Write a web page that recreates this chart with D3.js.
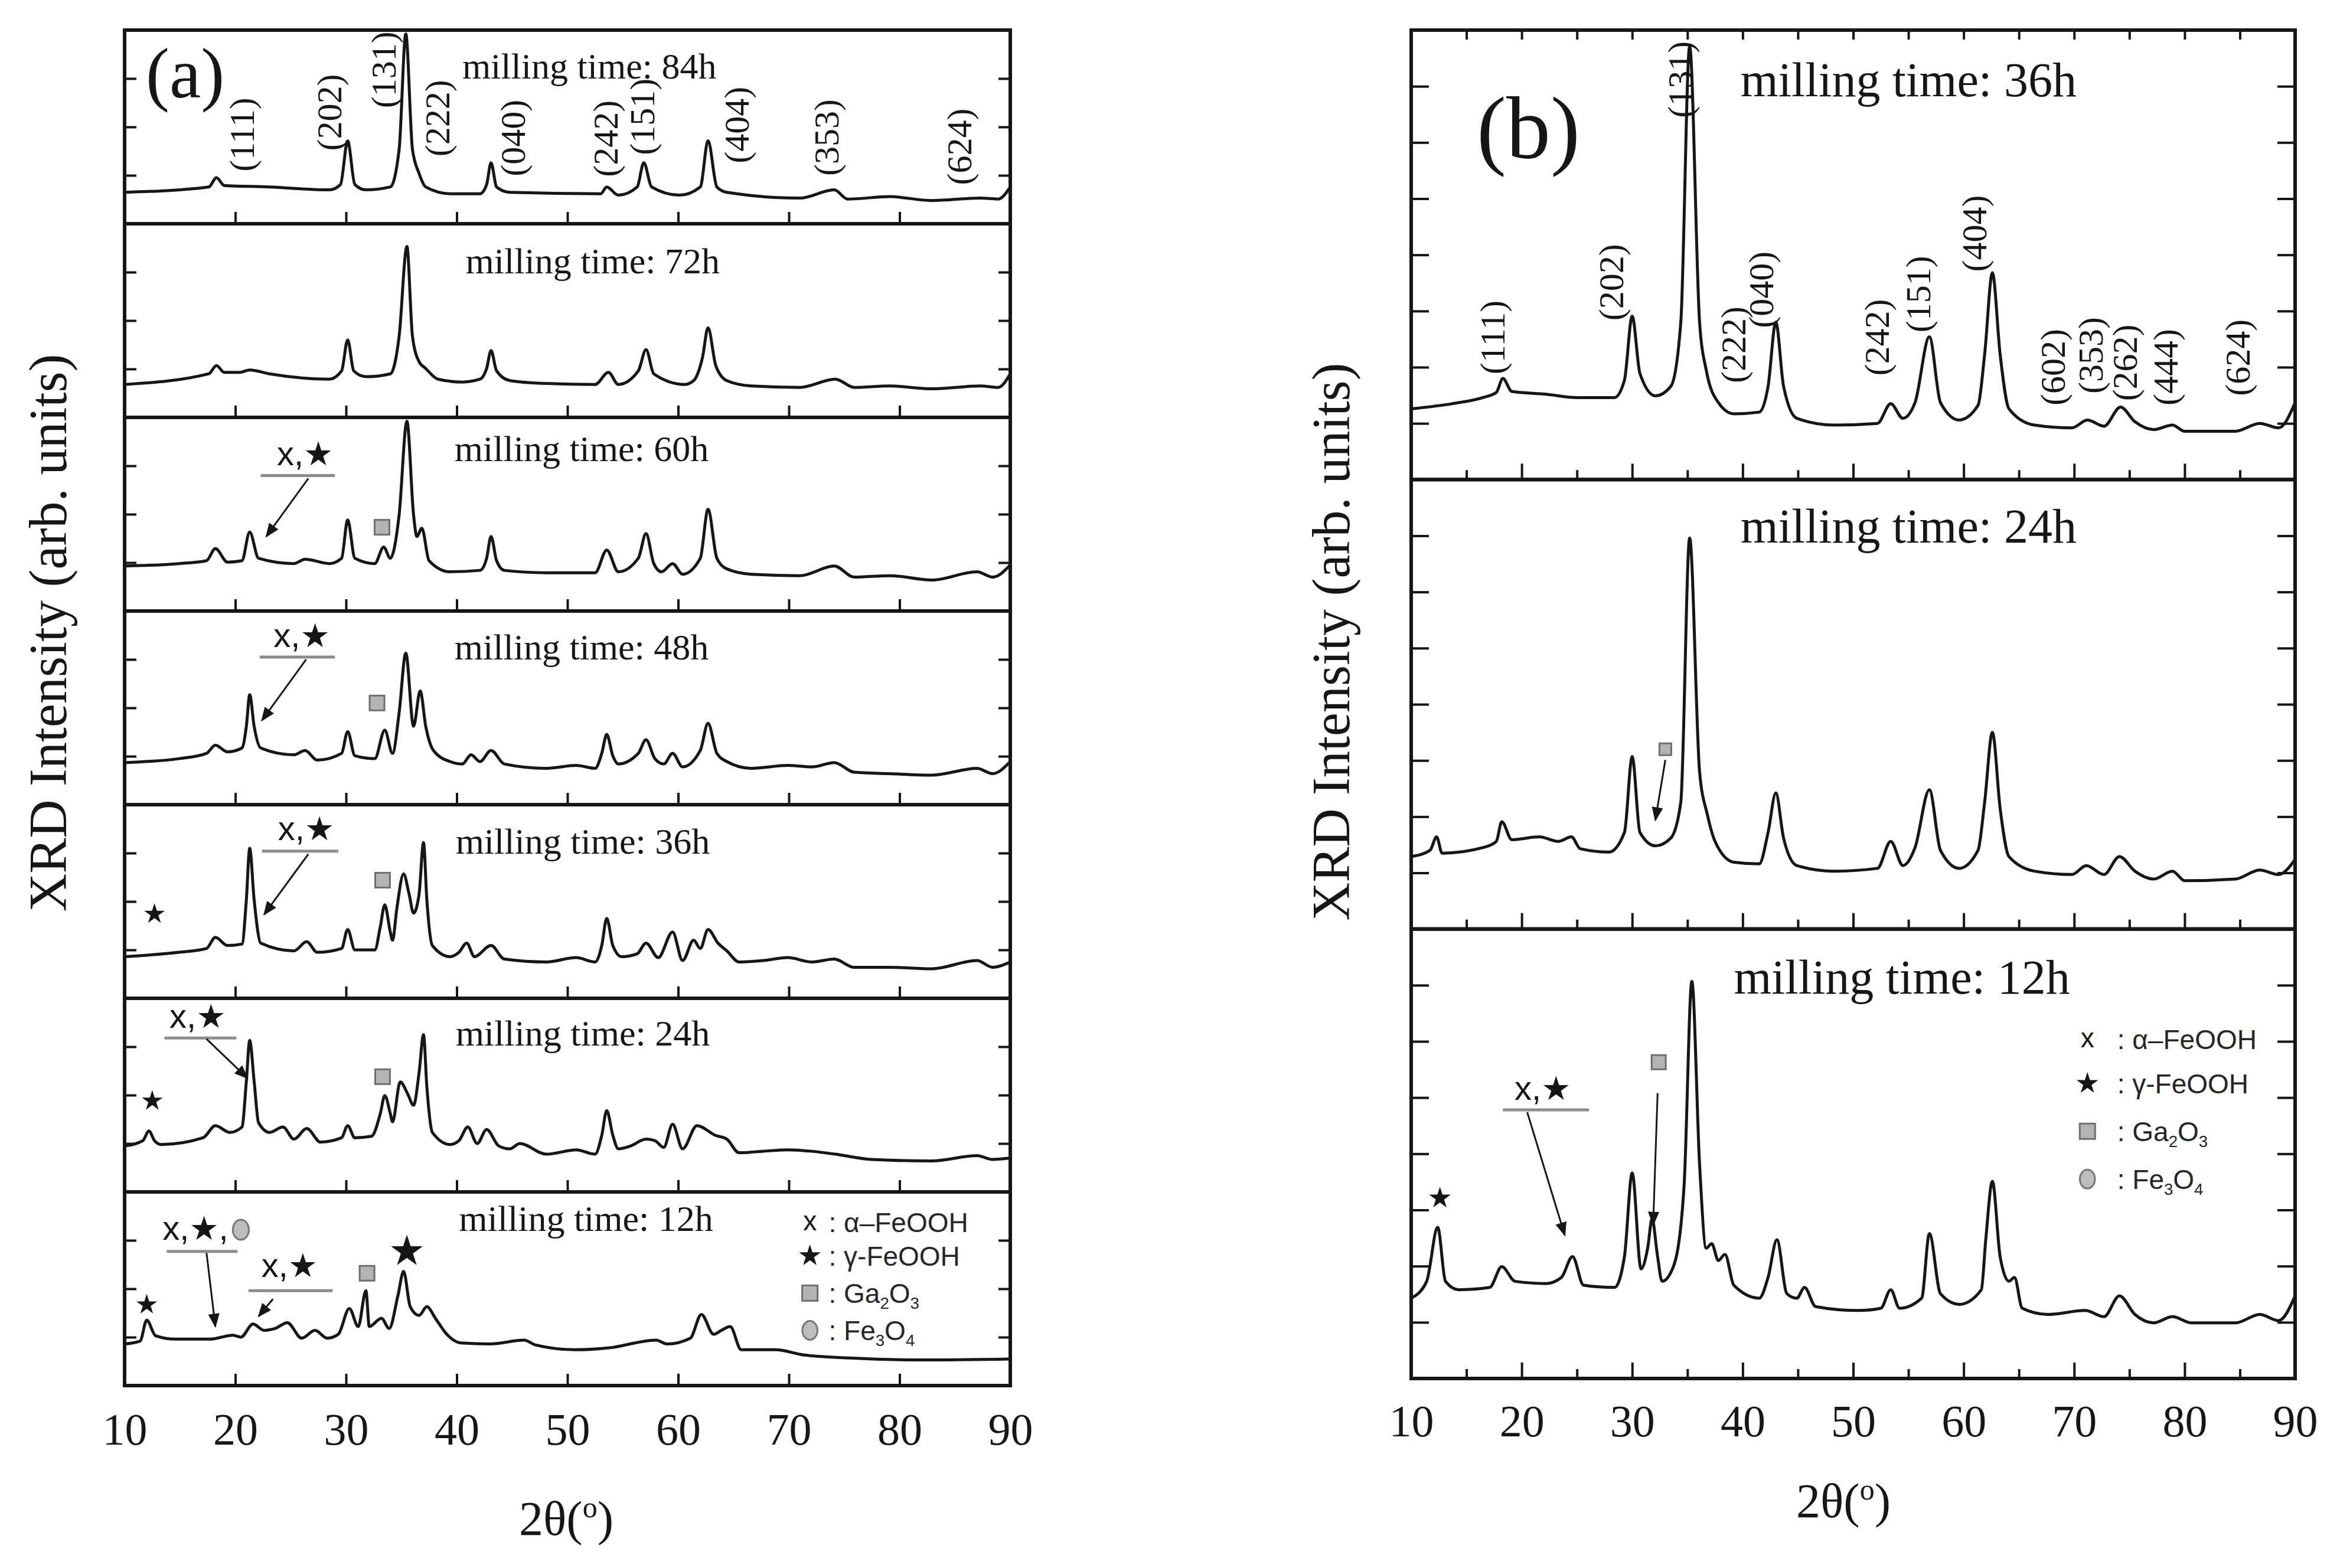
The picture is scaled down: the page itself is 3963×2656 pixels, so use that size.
<!DOCTYPE html>
<html>
<head>
<meta charset="utf-8">
<script src="https://cdn.jsdelivr.net/npm/d3@7"></script>
<style>
  html, body { margin: 0; padding: 0; background: #fff; }
  svg { display: block; }
</style>
</head>
<body>
<div id="chart"></div>
<script>
// ---------------------------------------------------------------------------
// Data: [2θ (deg), intensity] per pattern.
// Panel (a) intensities use a 0..4 scale per row, panel (b) a 0..8 scale.
// ---------------------------------------------------------------------------
const timesA = ["84h", "72h", "60h", "48h", "36h", "24h", "12h"];
const timesB = ["36h", "24h", "12h"];
const xTickLabels = [10, 20, 30, 40, 50, 60, 70, 80, 90];

const a84 = [[10,0.65],[17.6,0.76],[18.3,0.95],[19.0,0.79],[23.1,0.76],[28.5,0.70],[29.5,0.81],[30.15,1.71],[30.8,0.81],[31.8,0.70],[34.0,0.76],[34.8,1.54],[35.4,3.92],[36.0,1.54],[36.6,1.04],[37.2,0.76],[39.4,0.62],[42.1,0.62],[42.7,0.81],[43.1,1.26],[43.6,0.76],[44.8,0.65],[53.0,0.62],[53.55,0.76],[54.6,0.59],[56.3,0.76],[56.9,1.26],[57.6,0.76],[60.1,0.59],[62.0,0.76],[62.7,1.71],[63.5,0.76],[64.4,0.65],[71.0,0.53],[74.1,0.70],[75.3,0.51],[79.1,0.56],[82.9,0.48],[87.3,0.53],[88.9,0.51],[90.0,0.76]];
const a72 = [[10,0.68],[17.6,0.90],[18.3,1.07],[19.0,0.93],[20.4,0.93],[21.3,0.98],[23.1,0.90],[28.5,0.79],[29.6,0.96],[30.15,1.60],[30.7,0.96],[31.8,0.84],[34.0,0.90],[34.8,1.68],[35.5,3.53],[36.0,1.68],[36.6,1.15],[37.2,1.01],[38.3,0.79],[40.5,0.73],[42.1,0.79],[42.7,1.01],[43.1,1.38],[43.6,0.96],[44.8,0.76],[48.1,0.70],[52.5,0.68],[53.7,0.93],[54.6,0.68],[56.4,0.96],[57.1,1.40],[57.8,0.90],[60.6,0.68],[61.4,0.76],[62.2,1.24],[62.7,1.85],[63.4,1.07],[64.4,0.76],[66.6,0.65],[71.0,0.62],[74.2,0.79],[75.9,0.62],[79.1,0.65],[82.9,0.59],[87.3,0.65],[88.9,0.62],[90.0,0.90]];
const a60 = [[10,0.93],[14.9,0.98],[17.4,1.04],[18.2,1.29],[19.3,1.01],[20.6,1.04],[21.3,1.63],[22.1,1.09],[25.3,0.98],[26.3,1.07],[28.5,0.98],[29.6,1.09],[30.15,1.88],[30.8,1.09],[32.6,0.98],[33.4,1.32],[34.0,1.09],[34.8,1.99],[35.5,3.92],[36.1,1.99],[36.4,1.54],[36.85,1.71],[37.5,1.04],[39.4,0.81],[42.1,0.84],[42.7,1.09],[43.1,1.54],[43.6,1.04],[44.3,0.84],[48.1,0.79],[52.5,0.79],[53.55,1.26],[54.6,0.81],[56.4,1.09],[57.1,1.60],[57.8,0.98],[58.5,0.81],[59.5,0.98],[60.4,0.76],[62.0,1.09],[62.7,2.10],[63.5,1.09],[64.4,0.87],[66.6,0.76],[71.0,0.73],[74.1,0.93],[75.9,0.70],[79.1,0.73],[82.9,0.64],[87.0,0.81],[88.4,0.70],[90.0,0.95]];
const a48 = [[10,0.87],[14.9,0.95],[17.4,1.06],[18.2,1.23],[19.3,1.09],[20.6,1.17],[21.0,1.62],[21.3,2.27],[21.7,1.62],[22.3,1.17],[25.3,1.03],[26.3,1.12],[27.4,0.92],[29.6,1.06],[30.15,1.51],[30.8,1.01],[32.6,0.95],[33.5,1.54],[34.2,1.06],[34.8,1.90],[35.4,3.13],[36.1,1.62],[36.7,2.35],[37.2,1.62],[37.9,1.12],[39.4,0.89],[40.5,0.84],[41.3,1.03],[42.1,0.89],[43.1,1.12],[44.3,0.84],[48.1,0.75],[50.8,0.81],[52.5,0.75],[53.1,1.06],[53.55,1.45],[54.1,1.01],[54.6,0.84],[56.4,1.06],[57.1,1.34],[57.9,0.95],[58.7,0.84],[59.5,1.06],[60.4,0.78],[62.0,1.12],[62.7,1.68],[63.5,1.06],[64.4,0.89],[66.6,0.75],[69.9,0.81],[72.1,0.78],[74.1,0.87],[75.9,0.67],[79.1,0.64],[82.9,0.61],[87.0,0.75],[88.4,0.64],[90.0,0.89]];
const a36 = [[10,0.86],[14.9,0.95],[17.4,1.03],[18.2,1.26],[19.3,1.09],[20.6,1.12],[21.0,2.04],[21.3,3.10],[21.7,2.04],[22.3,1.14],[25.3,0.98],[26.45,1.17],[27.4,0.95],[29.6,1.03],[30.15,1.42],[30.8,1.00],[32.6,1.00],[33.1,1.48],[33.5,1.93],[34.0,1.37],[34.2,1.20],[34.6,1.87],[35.2,2.57],[35.7,2.15],[36.1,1.76],[36.6,2.15],[37.0,3.22],[37.3,2.04],[37.8,1.09],[39.4,0.86],[40.2,0.95],[40.9,1.14],[41.6,0.86],[43.1,1.09],[44.3,0.81],[48.1,0.75],[50.8,0.84],[52.5,0.75],[53.1,1.09],[53.55,1.65],[54.1,1.09],[54.9,0.86],[56.3,0.92],[57.1,1.14],[58.2,0.84],[59.5,1.37],[60.4,0.78],[61.4,1.20],[62.0,1.03],[62.7,1.42],[63.6,1.14],[64.4,0.98],[65.5,0.75],[67.7,0.78],[69.9,0.84],[72.1,0.75],[74.1,0.81],[75.9,0.64],[79.1,0.64],[82.9,0.61],[87.0,0.78],[88.4,0.64],[90.0,0.75]];
const a24 = [[10,0.95],[11.65,1.06],[12.2,1.26],[12.7,1.06],[13.3,0.98],[17.1,1.12],[18.2,1.37],[19.5,1.23],[20.6,1.34],[21.0,2.29],[21.3,3.13],[21.7,2.29],[22.1,1.43],[23.1,1.23],[24.3,1.34],[25.3,1.09],[26.45,1.31],[27.7,1.03],[29.6,1.12],[30.15,1.37],[30.8,1.12],[32.3,1.15],[33.1,1.62],[33.5,1.99],[34.0,1.62],[34.2,1.45],[34.9,2.27],[35.6,2.01],[36.1,1.79],[36.6,2.46],[37.0,3.25],[37.3,2.18],[37.8,1.23],[39.4,0.98],[40.2,1.06],[41.0,1.34],[41.85,1.00],[42.7,1.29],[43.8,0.95],[44.8,0.89],[45.7,1.00],[48.1,0.78],[50.8,0.87],[52.5,0.78],[53.1,1.17],[53.55,1.68],[54.1,1.17],[54.6,0.89],[55.7,0.95],[57.1,1.09],[57.9,1.06],[58.7,0.92],[59.5,1.40],[60.4,0.89],[61.7,1.37],[63.35,1.17],[64.4,1.09],[65.5,0.81],[67.7,0.84],[69.9,0.87],[72.1,0.84],[74.2,0.78],[77.5,0.67],[82.9,0.64],[87.0,0.75],[88.4,0.67],[90.0,0.70]];
const a12 = [[10,0.86],[11.4,0.92],[12.0,1.35],[12.8,1.03],[14.6,0.96],[17.7,0.96],[19.8,1.04],[20.5,1.00],[21.6,1.27],[22.6,1.14],[23.6,1.18],[24.7,1.30],[26.0,0.98],[27.2,1.14],[28.3,0.98],[29.3,1.06],[30.3,1.59],[31.1,1.22],[31.8,1.96],[32.1,1.22],[33.2,1.39],[33.9,1.18],[34.7,1.87],[35.2,2.36],[35.8,1.63],[36.6,1.45],[37.3,1.63],[38.1,1.38],[39.1,1.06],[40.4,0.88],[43.0,0.86],[46.1,0.94],[47.1,0.84],[50.7,0.74],[53.8,0.78],[58.0,0.94],[59.0,0.86],[61.1,0.98],[62.1,1.47],[63.2,1.06],[63.9,1.14],[64.7,1.22],[65.7,0.74],[68.8,0.74],[71.4,0.63],[75.5,0.57],[81.8,0.53],[90.0,0.55]];

const b36 = [[10,1.26],[13.7,1.35],[16.5,1.46],[17.7,1.55],[18.3,1.80],[19.1,1.57],[22.2,1.52],[25.0,1.46],[28.4,1.46],[29.3,1.77],[30.0,2.91],[30.7,1.89],[32.1,1.49],[33.5,1.66],[34.4,2.80],[35.2,7.71],[36.1,2.80],[36.7,1.95],[37.8,1.37],[39.2,1.17],[41.5,1.20],[42.3,1.66],[43.0,2.80],[43.7,1.66],[44.9,1.09],[48.3,0.97],[52.2,1.00],[53.4,1.35],[54.5,1.09],[55.6,1.37],[56.9,2.54],[57.9,1.37],[59.6,1.06],[61.3,1.32],[61.9,2.23],[62.6,3.68],[63.3,2.23],[64.1,1.26],[66.4,0.97],[69.8,0.92],[71.2,1.06],[72.7,0.95],[74.2,1.29],[75.5,1.03],[77.2,0.89],[78.9,0.97],[80.0,0.86],[84.6,0.86],[86.8,1.00],[88.5,0.92],[90.0,1.37]];
const b24 = [[10,1.29],[11.7,1.40],[12.3,1.64],[12.8,1.35],[16.5,1.45],[17.7,1.56],[18.2,1.91],[19.1,1.59],[21.6,1.64],[23.3,1.56],[24.5,1.64],[25.3,1.43],[27.9,1.37],[29.3,1.72],[30.0,3.07],[30.7,1.72],[32.1,1.48],[33.5,1.62],[34.4,2.26],[35.2,6.96],[36.1,2.80],[36.8,2.04],[37.5,1.56],[39.2,1.19],[41.5,1.16],[42.3,1.72],[43.0,2.42],[43.7,1.62],[44.9,1.13],[48.3,1.03],[52.2,1.08],[53.4,1.56],[54.5,1.13],[55.6,1.45],[56.9,2.48],[57.9,1.40],[59.6,1.08],[61.3,1.40],[61.9,2.26],[62.6,3.50],[63.3,2.15],[64.1,1.29],[66.4,1.03],[69.8,0.97],[71.1,1.13],[72.7,0.97],[74.1,1.29],[75.5,1.03],[77.2,0.89],[78.9,1.03],[80.0,0.86],[84.6,0.89],[86.8,1.05],[88.5,0.97],[90.0,1.24]];
const b12 = [[10,1.43],[11.4,1.73],[12.4,2.69],[13.1,1.73],[14.3,1.58],[17.1,1.62],[18.2,1.99],[19.4,1.73],[22.2,1.69],[23.6,1.80],[24.6,2.17],[25.6,1.66],[28.4,1.62],[29.3,2.17],[30.0,3.66],[30.8,1.95],[31.4,2.32],[31.8,2.84],[32.3,2.17],[32.7,1.73],[33.8,2.03],[34.7,3.44],[35.4,7.07],[36.1,3.81],[36.7,2.32],[37.2,2.40],[37.8,2.10],[38.4,2.21],[39.2,1.66],[41.5,1.43],[42.3,1.80],[43.1,2.47],[44.0,1.51],[44.9,1.43],[45.6,1.62],[46.6,1.28],[50.5,1.21],[52.5,1.25],[53.4,1.58],[54.2,1.25],[56.2,1.43],[56.9,2.58],[57.9,1.51],[59.6,1.32],[61.6,1.58],[62.0,2.47],[62.6,3.51],[63.3,2.17],[64.1,1.73],[64.6,1.80],[65.3,1.25],[67.6,1.14],[71.0,1.21],[72.7,1.10],[74.1,1.47],[75.5,1.14],[77.2,0.99],[78.9,1.10],[80.6,0.99],[84.6,0.99],[86.8,1.14],[88.5,1.03],[90.0,1.47]];

const seriesA = [a84, a72, a60, a48, a36, a24, a12];
const seriesB = [b36, b24, b12];

// Miller indices and where their labels sit (2θ, intensity)
const hklNames   = ["(111)","(202)","(131)","(222)","(040)","(242)","(151)","(404)","(353)","(624)"];
const hklThetaA  = [20.6, 28.5, 33.4, 38.3, 45.1, 53.5, 56.8, 65.3, 73.4, 85.4];
const hklLevelA  = [1.84, 2.30, 3.18, 2.18, 1.77, 1.76, 2.21, 2.04, 1.78, 1.59];
const hklNamesB  = ["(111)","(202)","(131)","(222)","(040)","(242)","(151)","(404)","(602)","(353)","(262)","(444)","(624)"];
const hklThetaB  = [17.4, 28.1, 34.4, 39.2, 41.7, 52.2, 55.9, 61.0, 68.1, 71.5, 74.6, 78.3, 84.8];
const hklLevelB  = [2.53, 3.51, 7.12, 2.40, 3.38, 2.53, 3.30, 4.38, 2.00, 2.21, 2.08, 2.00, 2.17];

// phase legend
const phaseSymbols = ["x", "star", "square", "circle"];
const phaseNames = [["α–FeOOH"], ["γ-FeOOH"], ["Ga", "2", "O", "3"], ["Fe", "3", "O", "4"]];

// ---------------------------------------------------------------------------
// Layout
// ---------------------------------------------------------------------------
const W = 3963, H = 2656;
const serif = "'Liberation Serif','Times New Roman',serif";
const sans = "'Liberation Sans',Arial,sans-serif";
const INK = "#161616";

const A = { left: 211, right: 1711, top: 51, bottom: 2347, ymax: 4, yTicks: [1, 2, 3], yTick: 20 };
const B = { left: 2390, right: 3887, top: 51, bottom: 2335, ymax: 8, yTicks: [1, 2, 3, 4, 5, 6, 7], yTick: 30 };
A.h = (A.bottom - A.top) / timesA.length;
B.h = (B.bottom - B.top) / timesB.length;

const xA = d3.scaleLinear().domain([10, 90]).range([A.left, A.right]);
const xB = d3.scaleLinear().domain([10, 90]).range([B.left, B.right]);
const rowY = (P, i) => d3.scaleLinear().domain([0, P.ymax]).range([P.top + (i + 1) * P.h, P.top + i * P.h]);

const svg = d3.select("#chart").append("svg").attr("width", W).attr("height", H);
svg.append("rect").attr("width", W).attr("height", H).attr("fill", "#fff");

svg.append("defs").append("marker")
  .attr("id", "head").attr("viewBox", "0 0 10 10")
  .attr("refX", 9).attr("refY", 5)
  .attr("markerWidth", 9).attr("markerHeight", 8)
  .attr("markerUnits", "strokeWidth").attr("orient", "auto")
  .append("path").attr("d", "M0,1 L10,5 L0,9 Z").attr("fill", INK);

function styleAxis(g, width) {
  g.select(".domain").remove();
  g.selectAll(".tick line").attr("stroke", INK).attr("stroke-width", width);
  g.selectAll(".tick text").attr("font-family", serif).attr("font-size", 76).attr("fill", INK);
}

function drawCurve(x, y, data) {
  svg.append("path")
    .datum(data)
    .attr("fill", "none")
    .attr("stroke", INK)
    .attr("stroke-width", 5)
    .attr("stroke-linejoin", "round")
    .attr("d", d3.line().x(d => x(d[0])).y(d => y(d[1])).curve(d3.curveMonotoneX));
}

function drawFrame(P, i, y) {
  const g = svg.append("g");
  // left / right intensity ticks
  g.append("g").attr("transform", `translate(${P.left},0)`)
    .call(d3.axisLeft(y).tickValues(P.yTicks).tickSize(-P.yTick).tickFormat(""))
    .call(s => styleAxis(s, 4));
  g.append("g").attr("transform", `translate(${P.right},0)`)
    .call(d3.axisRight(y).tickValues(P.yTicks).tickSize(-P.yTick).tickFormat(""))
    .call(s => styleAxis(s, 4));
  g.append("rect")
    .attr("x", P.left).attr("y", y.range()[1])
    .attr("width", P.right - P.left).attr("height", P.h)
    .attr("fill", "none").attr("stroke", INK).attr("stroke-width", 6);
  return g;
}

function millingLabel(x, y, t, v, text, size) {
  svg.append("text")
    .attr("x", x(t)).attr("y", y(v))
    .attr("font-family", serif).attr("font-size", size).attr("fill", INK)
    .text("milling time: " + text);
}

function hklLabel(x, y, t, v, text) {
  svg.append("text")
    .attr("transform", `translate(${x(t)},${y(v)}) rotate(-90)`)
    .attr("text-anchor", "middle").attr("dy", "0.33em")
    .attr("font-family", serif).attr("font-size", 60).attr("fill", INK)
    .text(text);
}

function star(px, py, size) {
  svg.append("path")
    .attr("transform", `translate(${px},${py})`)
    .attr("d", d3.symbol(d3.symbolStar, size)())
    .attr("fill", INK);
}

function square(px, py, s) {
  svg.append("rect")
    .attr("x", px - s / 2).attr("y", py - s / 2).attr("width", s).attr("height", s)
    .attr("fill", "#b4b4b4").attr("stroke", "#6e6e6e").attr("stroke-width", 3);
}

function greyCircle(px, py, r) {
  svg.append("ellipse")
    .attr("cx", px).attr("cy", py).attr("rx", r * 0.8).attr("ry", r)
    .attr("fill", "#bdbdbd").attr("stroke", "#777").attr("stroke-width", 3);
}

function arrow(x, y, t1, v1, t2, v2) {
  svg.append("line")
    .attr("x1", x(t1)).attr("y1", y(v1)).attr("x2", x(t2)).attr("y2", y(v2))
    .attr("stroke", INK).attr("stroke-width", 3)
    .attr("marker-end", "url(#head)");
}

// "x,★" tag with a grey underline and an arrow to the peak
function phaseTag(x, y, n, trail) {
  const t = svg.append("text")
    .attr("x", x(n.t)).attr("y", y(n.v))
    .attr("text-anchor", "middle")
    .attr("font-family", sans).attr("font-size", 58).attr("fill", INK);
  t.append("tspan").text("x,");
  t.append("tspan").attr("font-family", "'DejaVu Sans',sans-serif").attr("font-size", 56).text("★");
  if (trail) t.append("tspan").text(",");
  svg.append("line")
    .attr("x1", x(n.u[0])).attr("x2", x(n.u[1]))
    .attr("y1", y(n.u[2])).attr("y2", y(n.u[2]))
    .attr("stroke", "#8c8c8c").attr("stroke-width", 5);
  arrow(x, y, n.a[0], n.a[1], n.a[2], n.a[3]);
}

function legend(x, y, tSym, tText, levels, size) {
  phaseSymbols.forEach((s, k) => {
    const px = x(tSym), py = y(levels[k]);
    if (s === "x") {
      svg.append("text").attr("x", px).attr("y", py).attr("dy", "0.3em")
        .attr("text-anchor", "middle").attr("font-family", sans).attr("font-size", size).attr("fill", INK).text("x");
    } else if (s === "star") {
      star(px, py, 420);
    } else if (s === "square") {
      square(px, py, 26);
    } else {
      greyCircle(px, py, 16);
    }
    const t = svg.append("text").attr("x", x(tText)).attr("y", py).attr("dy", "0.36em")
      .attr("font-family", sans).attr("font-size", size).attr("fill", "#262626");
    const parts = phaseNames[k];
    t.append("tspan").text(": " + parts[0]);
    for (let j = 1; j < parts.length; j++) {
      if (j % 2 === 1) {
        t.append("tspan").attr("font-size", size * 0.6).attr("dy", size * 0.22).text(parts[j]);
      } else {
        t.append("tspan").attr("dy", -size * 0.22).text(parts[j]);
      }
    }
  });
}

// ---------------------------------------------------------------------------
// Panel (a)
// ---------------------------------------------------------------------------
const labelPosA = [[40.5, 3.0], [40.8, 2.98], [39.8, 3.1], [39.8, 3.0], [39.9, 2.99], [39.9, 3.02], [40.2, 3.2]];
const yA = timesA.map((_, i) => rowY(A, i));

seriesA.forEach((d, i) => drawCurve(xA, yA[i], d));

timesA.forEach((tm, i) => {
  const last = i === timesA.length - 1;
  const g = drawFrame(A, i, yA[i]);
  g.append("g").attr("transform", `translate(0,${yA[i].range()[0]})`)
    .call(d3.axisBottom(xA)
      .tickValues(last ? xTickLabels : xTickLabels.slice(1, -1))
      .tickSize(-20).tickPadding(46)
      .tickFormat(last ? d3.format("d") : ""))
    .call(s => styleAxis(s, 4));
  millingLabel(xA, yA[i], labelPosA[i][0], labelPosA[i][1], tm, 62);
});

hklNames.forEach((n, k) => hklLabel(xA, yA[0], hklThetaA[k], hklLevelA[k], n));

svg.append("text").attr("x", 247).attr("y", 165)
  .attr("font-family", serif).attr("font-size", 120).attr("fill", INK).text("(a)");

// phase markers in panel (a)
const tagsA = [
  { row: 2, t: 26.3, v: 3.01, u: [22.3, 29.0, 2.80], a: [26.6, 2.74, 22.8, 1.54] },
  { row: 3, t: 26.0, v: 3.26, u: [22.2, 29.0, 3.05], a: [26.4, 3.00, 22.4, 1.74] },
  { row: 4, t: 26.4, v: 3.27, u: [22.4, 29.3, 3.04], a: [26.6, 2.98, 22.6, 1.73] },
  { row: 5, t: 16.6, v: 3.39, u: [13.6, 20.1, 3.18], a: [17.4, 3.16, 21.1, 2.35] },
  { row: 6, t: 16.4, v: 3.01, u: [13.8, 20.2, 2.77], a: [17.4, 2.74, 18.2, 1.22], trail: true },
  { row: 6, t: 24.9, v: 2.24, u: [21.2, 28.8, 1.96], a: [23.4, 1.79, 22.1, 1.43] }
];
tagsA.forEach(n => phaseTag(xA, yA[n.row], n, n.trail));

const squaresA = [[2, 33.25, 1.73], [3, 32.8, 2.10], [4, 33.3, 2.44], [5, 33.3, 2.38], [6, 31.9, 2.32]];
squaresA.forEach(s => square(xA(s[1]), yA[s[0]](s[2]), 25));

const starsA = [[4, 12.7, 1.74, 380], [5, 12.5, 1.88, 380], [6, 12.0, 1.67, 380], [6, 35.5, 2.77, 900]];
starsA.forEach(s => star(xA(s[1]), yA[s[0]](s[2]), s[3]));

greyCircle(xA(20.5), yA[6](3.22), 17);

legend(xA, yA[6], 71.9, 73.6, [3.37, 2.68, 1.91, 1.14], 46);

// axis titles (a)
svg.append("text")
  .attr("transform", "translate(112,1072) rotate(-90)")
  .attr("text-anchor", "middle")
  .attr("font-family", serif).attr("font-size", 90).attr("fill", INK)
  .text("XRD Intensity (arb. units)");

function thetaTitle(px, py) {
  const t = svg.append("text").attr("x", px).attr("y", py)
    .attr("text-anchor", "middle")
    .attr("font-family", serif).attr("font-size", 82).attr("fill", INK);
  t.append("tspan").text("2θ(");
  t.append("tspan").attr("font-size", 50).attr("dy", -30).text("o");
  t.append("tspan").attr("dy", 30).text(")");
}
thetaTitle(959, 2600);

// ---------------------------------------------------------------------------
// Panel (b)
// ---------------------------------------------------------------------------
const labelPosB = [[39.8, 6.82], [39.8, 6.88], [39.2, 6.85]];
const yB = timesB.map((_, i) => rowY(B, i));
const minorB = d3.range(15, 90, 10);
const allB = d3.range(15, 90, 5);

seriesB.forEach((d, i) => drawCurve(xB, yB[i], d));

timesB.forEach((tm, i) => {
  const last = i === timesB.length - 1;
  const base = yB[i].range()[0];
  const g = drawFrame(B, i, yB[i]);
  g.append("g").attr("transform", `translate(0,${base})`)
    .call(d3.axisBottom(xB).tickValues(minorB).tickSize(-16).tickFormat(""))
    .call(s => styleAxis(s, 4));
  g.append("g").attr("transform", `translate(0,${base})`)
    .call(d3.axisBottom(xB)
      .tickValues(last ? xTickLabels : xTickLabels.slice(1, -1))
      .tickSize(-27).tickPadding(44)
      .tickFormat(last ? d3.format("d") : ""))
    .call(s => styleAxis(s, 4));
  if (i === 0) {
    g.append("g").attr("transform", `translate(0,${B.top})`)
      .call(d3.axisTop(xB).tickValues(allB).tickSize(-16).tickFormat(""))
      .call(s => styleAxis(s, 4));
  }
  millingLabel(xB, yB[i], labelPosB[i][0], labelPosB[i][1], tm, 82);
});

hklNamesB.forEach((n, k) => hklLabel(xB, yB[0], hklThetaB[k], hklLevelB[k], n));

svg.append("text").attr("x", 2501).attr("y", 268)
  .attr("font-family", serif).attr("font-size", 150).attr("fill", INK).text("(b)");

square(xB(33.0), yB[1](3.2), 20);
arrow(xB, yB[1], 33.0, 3.01, 32.1, 1.94);

square(xB(32.4), yB[2](5.63), 24);
arrow(xB, yB[2], 32.3, 5.08, 31.9, 2.74);
star(xB(12.6), yB[2](3.21), 420);
phaseTag(xB, yB[2], { t: 21.9, v: 4.96, u: [18.3, 26.1, 4.78], a: [20.5, 4.74, 23.9, 2.55] }, false);

legend(xB, yB[2], 71.2, 73.9, [6.04, 5.25, 4.40, 3.55], 46);

svg.append("text")
  .attr("transform", "translate(2285,1087) rotate(-90)")
  .attr("text-anchor", "middle")
  .attr("font-family", serif).attr("font-size", 90).attr("fill", INK)
  .text("XRD Intensity (arb. units)");

thetaTitle(3122, 2570);
</script>
</body>
</html>
